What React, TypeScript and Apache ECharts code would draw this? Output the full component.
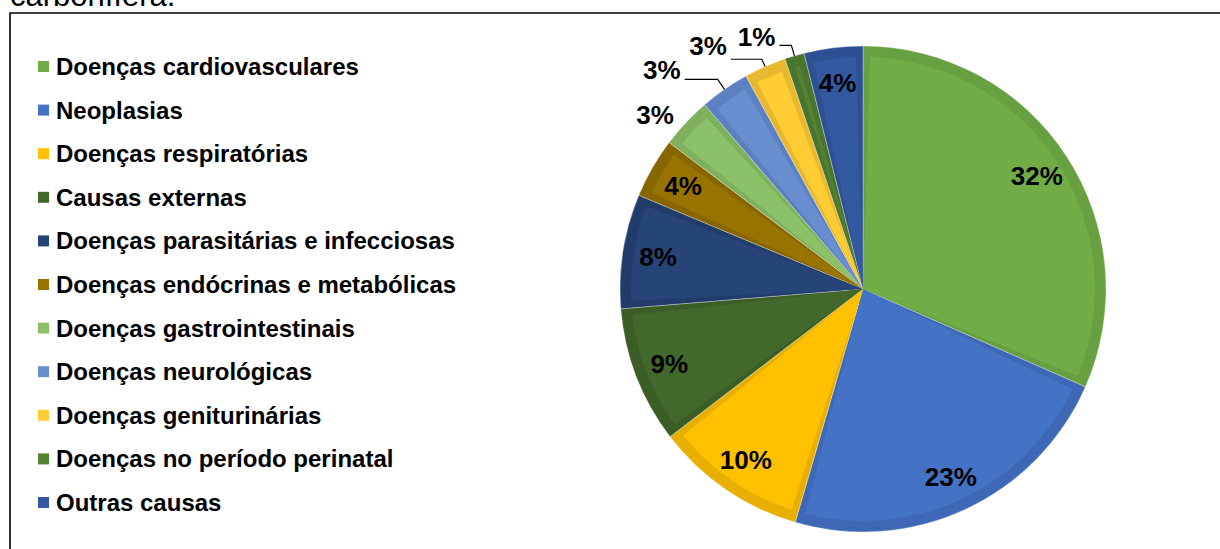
import React, { useEffect, useRef } from "react";
import * as echarts from "echarts";

const categories = [
  "Doenças cardiovasculares",
  "Neoplasias",
  "Doenças respiratórias",
  "Causas externas",
  "Doenças parasitárias e infecciosas",
  "Doenças endócrinas e metabólicas",
  "Doenças gastrointestinais",
  "Doenças neurológicas",
  "Doenças geniturinárias",
  "Doenças no período perinatal",
  "Outras causas",
];
const values = [31.6, 22.9, 10.1, 9.1, 7.6, 4.0, 3.4, 3.3, 2.8, 1.3, 3.9];
const fillColors = [
  "#70AD47", "#4472C4", "#FFC000", "#43682B", "#264478", "#997300",
  "#8CC168", "#698ED0", "#FFCD33", "#548235", "#335AA1",
];
const rimColors = [
  "#66A040", "#3E68B6", "#E8AF00", "#3B5D26", "#213C6B", "#876600",
  "#7FB05E", "#5C80C0", "#E8B92E", "#4A752F", "#2D5093",
];
const titleText = "carbonífera.";

export default function App() {
  const ref = useRef<HTMLDivElement>(null);
  useEffect(() => {
    if (!ref.current) return;
    const chart = echarts.init(ref.current, undefined, { renderer: "svg" });
    const cx = 863;
    const cy = 289;
    const R = 243;
    const font = "'Liberation Sans', Arial, sans-serif";

    // label placement tweaks for the small slices (index -> style)
    const outsideCfg: Record<number, any> = {
      6: { len: 11, len2: 0, line: false, lh: 0 },
      7: { len: 12, len2: 33, line: true, lh: 18 },
      8: { len: 8, len2: 31, line: true, lh: 26 },
      9: { len: 11, len2: 12, line: true, lh: 16 },
    };

    const mainData = categories.map((name, i) => ({
      name,
      value: values[i],
      itemStyle: { color: fillColors[i] },
    }));
    const rimData = categories.map((name, i) => ({
      name,
      value: values[i],
      itemStyle: { color: rimColors[i] },
    }));
    const labelData = categories.map((name, i) => {
      const c = outsideCfg[i];
      if (!c) {
        return { name, value: values[i], label: { position: "inside" as const }, labelLine: { show: false } };
      }
      return {
        name,
        value: values[i],
        label: c.lh
          ? { position: "outside" as const, lineHeight: c.lh }
          : { position: "outside" as const },
        labelLine: { show: c.line, length: c.len, length2: c.len2 },
      };
    });

    chart.setOption({
      animation: false,
      backgroundColor: "#ffffff",
      legend: {
        orient: "vertical",
        left: 38,
        top: 54.5,
        height: 500,
        padding: 0,
        icon: "rect",
        itemWidth: 11,
        itemHeight: 11,
        itemGap: 19.6,
        selectedMode: false,
        data: categories,
        textStyle: {
          fontFamily: font,
          fontWeight: "bold",
          fontSize: 24,
          color: "#000",
          padding: [0, 0, 0, 2],
        },
      },
      graphic: [
        {
          type: "text",
          left: 10,
          y: -5,
          style: {
            text: titleText,
            font: `31px ${font}`,
            fill: "#000",
            verticalAlign: "middle",
          },
          silent: true,
        },
        {
          type: "polyline",
          shape: { points: [[10, 549], [10, 13], [1220, 13]] },
          style: { stroke: "#000", lineWidth: 1.6, fill: "none" },
          silent: true,
        },
      ],
      series: [
        {
          type: "pie",
          z: 3,
          center: [cx, cy],
          radius: [0, R - 11],
          startAngle: 90,
          clockwise: true,
          padAngle: 3.5,
          silent: true,
          label: { show: false },
          labelLine: { show: false },
          emphasis: { disabled: true },
          data: mainData,
        },
        {
          type: "pie",
          z: 2,
          center: [cx, cy],
          radius: [0, R],
          startAngle: 90,
          clockwise: true,
          silent: true,
          itemStyle: { borderColor: "rgba(255,255,255,0.5)", borderWidth: 0.6 },
          label: { show: false },
          labelLine: { show: false },
          emphasis: { disabled: true },
          data: rimData,
        },
        {
          type: "pie",
          z: 4,
          center: [cx, cy],
          radius: [166, R],
          startAngle: 90,
          clockwise: true,
          silent: true,
          avoidLabelOverlap: false,
          itemStyle: { color: "rgba(0,0,0,0)" },
          emphasis: { disabled: true },
          label: {
            show: true,
            fontFamily: font,
            fontWeight: "bold",
            fontSize: 26,
            color: "#000",
            formatter: (p: any) => {
              const c = outsideCfg[p.dataIndex];
              const t = `${Math.round(p.value)}%`;
              return c && c.lh ? `${t}\n ` : t;
            },
            distanceToLabelLine: 4,
          },
          labelLine: {
            lineStyle: { color: "#000", width: 1.2 },
          },
          data: labelData,
        },
      ],
    });
    return () => chart.dispose();
  }, []);
  return (
    <div
      ref={ref}
      style={{ position: "absolute", left: 0, top: 0, width: 1220, height: 549, background: "#fff" }}
    />
  );
}
